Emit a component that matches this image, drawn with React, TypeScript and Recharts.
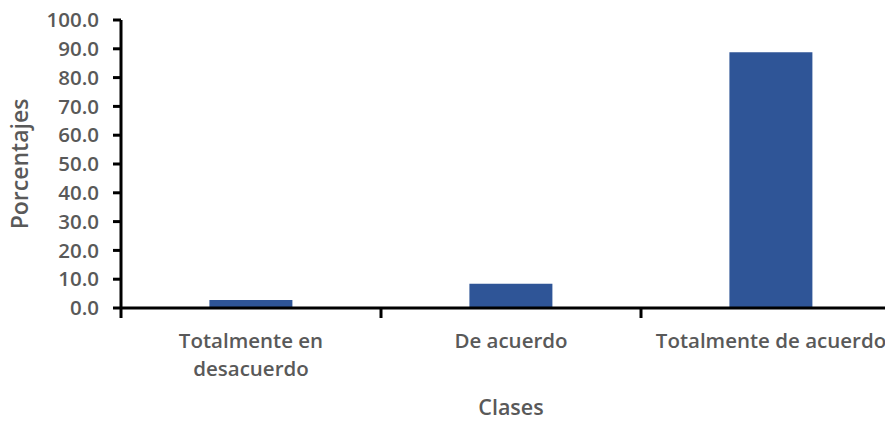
import { BarChart, Bar, XAxis, YAxis } from 'recharts';

const CATEGORIES = ['Totalmente en desacuerdo', 'De acuerdo', 'Totalmente de acuerdo'];
const TICK_LINES = [['Totalmente en', 'desacuerdo'], ['De acuerdo'], ['Totalmente de acuerdo']];
const PERCENTAGES = [2.8, 8.4, 88.8];
const Y_TICKS = [0, 10, 20, 30, 40, 50, 60, 70, 80, 90, 100];

const data = CATEGORIES.map((category, i) => ({ category, value: PERCENTAGES[i] }));

const FONT = '"Open Sans", sans-serif';
const GREY = '#595959';

function CategoryTick(props: any) {
  const { x, y, payload, index } = props;
  const lines = TICK_LINES[index] || [payload.value];
  const half = payload.offset || 0;
  return (
    <g>
      <line x1={x - half} y1={y - 8} x2={x - half} y2={y + 2} stroke="#000" strokeWidth={3} />
      <text x={x} y={y} fill={GREY} fontFamily={FONT} fontWeight={600} fontSize={20.5} textAnchor="middle">
        {lines.map((line: string, i: number) => (
          <tspan key={i} x={x} dy={i === 0 ? 32 : 28}>{line}</tspan>
        ))}
      </text>
    </g>
  );
}

export default function App() {
  return (
    <div style={{ margin: -8, width: 893, height: 423, overflow: 'hidden', background: '#fff' }}>
      <BarChart
        width={910}
        height={423}
        data={data}
        margin={{ top: 20, right: 9, bottom: 0, left: 0 }}
        barCategoryGap="34%"
      >
        <XAxis
          dataKey="category"
          height={115}
          axisLine={{ stroke: '#000', strokeWidth: 3 }}
          tickLine={false}
          tick={<CategoryTick />}
          interval={0}
          label={{ value: 'Clases', position: 'insideBottom', offset: 8, fill: GREY, fontSize: 21.5, fontWeight: 600, fontFamily: FONT }}
        />
        <YAxis
          width={121}
          domain={[0, 100]}
          ticks={Y_TICKS}
          interval={0}
          tickFormatter={(v: number) => v.toFixed(1)}
          axisLine={{ stroke: '#000', strokeWidth: 3 }}
          tickLine={{ stroke: '#000', strokeWidth: 3 }}
          tickSize={8}
          tickMargin={14}
          tick={{ fill: GREY, fontSize: 20.5, fontWeight: 600, fontFamily: FONT }}
          label={{ value: 'Porcentajes', angle: -90, position: 'insideLeft', offset: 20, fill: GREY, fontSize: 23, fontWeight: 600, fontFamily: FONT, style: { textAnchor: 'middle' } }}
        />
        <Bar dataKey="value" fill="#2F5597" isAnimationActive={false} />
      </BarChart>
    </div>
  );
}
